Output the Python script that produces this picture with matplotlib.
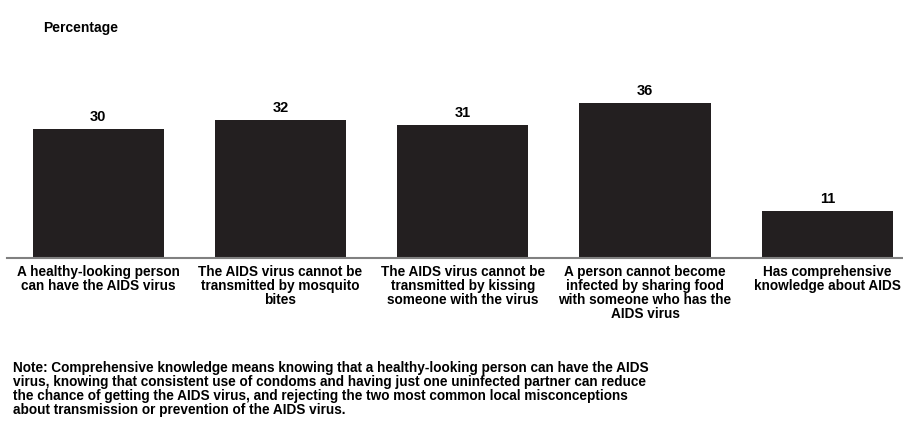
import numpy as np
import matplotlib.pyplot as plt

categories = [
    'A healthy-looking person\ncan have the AIDS virus',
    'The AIDS virus cannot be\ntransmitted by mosquito\nbites',
    'The AIDS virus cannot be\ntransmitted by kissing\nsomeone with the virus',
    'A person cannot become\ninfected by sharing food\nwith someone who has the\nAIDS virus',
    'Has comprehensive\nknowledge about AIDS',
]
values = [30, 32, 31, 36, 11]

note = ('Note: Comprehensive knowledge means knowing that a healthy-looking person can have the AIDS\n'
        'virus, knowing that consistent use of condoms and having just one uninfected partner can reduce\n'
        'the chance of getting the AIDS virus, and rejecting the two most common local misconceptions\n'
        'about transmission or prevention of the AIDS virus.')

plt.rcParams['font.family'] = ['Liberation Sans', 'DejaVu Sans']

fig = plt.figure(figsize=(9.04, 4.28), dpi=100)
ax = fig.add_axes([7 / 904, 170 / 428, 897 / 904, 172 / 428])

x = np.arange(len(values))
ax.bar(x, values, width=0.72, color='#231f20')
for xi, v in zip(x, values):
    ax.text(xi, v + 1.2, str(v), ha='center', va='bottom', fontsize=10.5, fontweight='bold')

ax.set_xlim(-0.5, -0.5 + 897 / 182.3)
ax.set_ylim(0, 40)
for s in ['top', 'right', 'left']:
    ax.spines[s].set_visible(False)
ax.spines['bottom'].set_color('#808080')
ax.spines['bottom'].set_linewidth(1.5)
ax.set_yticks([])
ax.set_xticks(x)
ax.set_xticklabels(categories, fontsize=9.8, fontweight='bold', linespacing=1.0)
ax.tick_params(axis='x', length=0, pad=5)

fig.text(43 / 904, 1 - 28 / 428, 'Percentage', fontsize=10, fontweight='bold', va='center')
fig.text(13 / 904, 1 - 361 / 428, note, fontsize=9.8, fontweight='bold', va='top', linespacing=1.0)

fig.savefig('out.png', dpi=100)
